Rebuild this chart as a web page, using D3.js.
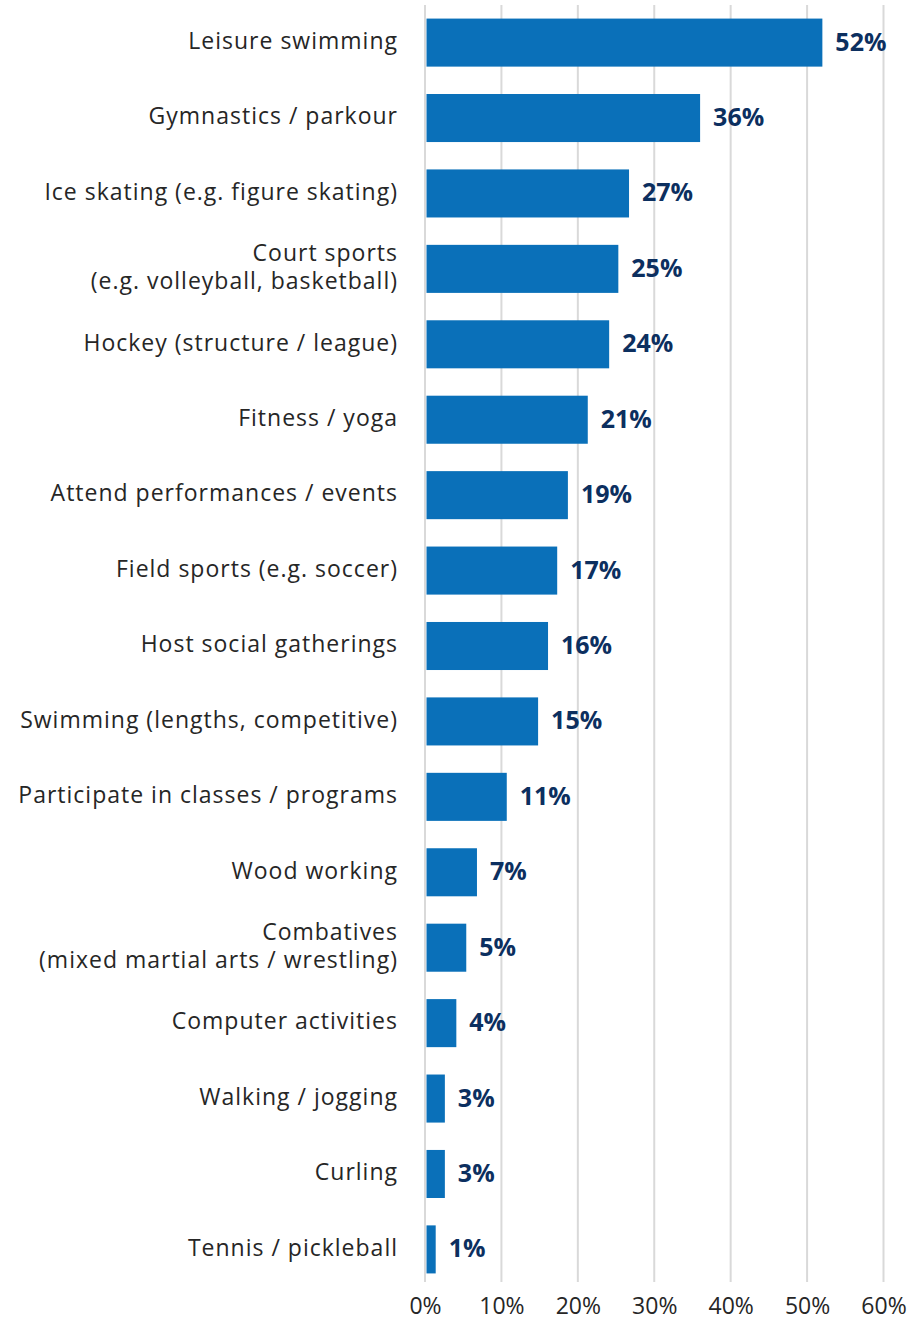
<!DOCTYPE html>
<html>
<head>
<meta charset="utf-8">
<script src="https://cdn.jsdelivr.net/npm/d3@7"></script>
<style>
  body { margin: 0; background: #fff; }
  svg { display: block; font-family: "Open Sans", Lato, sans-serif; }
</style>
</head>
<body>
<script>
const categories = [
  ['Leisure swimming'],
  ['Gymnastics / parkour'],
  ['Ice skating (e.g. figure skating)'],
  ['Court sports', '(e.g. volleyball, basketball)'],
  ['Hockey (structure / league)'],
  ['Fitness / yoga'],
  ['Attend performances / events'],
  ['Field sports (e.g. soccer)'],
  ['Host social gatherings'],
  ['Swimming (lengths, competitive)'],
  ['Participate in classes / programs'],
  ['Wood working'],
  ['Combatives', '(mixed martial arts / wrestling)'],
  ['Computer activities'],
  ['Walking / jogging'],
  ['Curling'],
  ['Tennis / pickleball']
];
// bar lengths; labels show them rounded
const values = [52.0, 36.0, 26.7, 25.3, 24.1, 21.3, 18.7, 17.3, 16.1, 14.8, 10.7, 6.8, 5.4, 4.1, 2.6, 2.6, 1.4];
const ticks = [0, 10, 20, 30, 40, 50, 60];

const w = 923, h = 1321;
const pLeft = 425, pRight = 883.5, pTop = 5, pBottom = 1287;

const svg = d3.select('body').append('svg').attr('width', w).attr('height', h);

const x = d3.scaleLinear().domain([0, 60]).range([pLeft, pRight]);
const y = d3.scaleBand().domain(d3.range(categories.length)).range([pTop, pBottom]).paddingInner(0.363).paddingOuter(0.18);

// gridlines
svg.append('g').selectAll('line').data(ticks).enter().append('line')
  .attr('x1', d => x(d)).attr('x2', d => x(d))
  .attr('y1', pTop).attr('y2', 1282)
  .attr('stroke', '#d9d9d9').attr('stroke-width', 2);

// bars
svg.append('g').selectAll('rect').data(values).enter().append('rect')
  .attr('x', x(0) + 1.5)
  .attr('y', (d, i) => y(i))
  .attr('width', d => x(d) - x(0) - 1.5)
  .attr('height', y.bandwidth())
  .attr('fill', '#0a70b9');

// value labels
svg.append('g').selectAll('text').data(values).enter().append('text')
  .attr('x', d => x(d) + 13)
  .attr('y', (d, i) => y(i) + y.bandwidth() / 2 - 1)
  .attr('dy', '0.36em')
  .attr('font-size', 25).attr('font-weight', 'bold')
  .attr('fill', '#0c2f5f')
  .text(d => Math.round(d) + '%');

// category labels
const lab = svg.append('g').selectAll('text').data(categories).enter().append('text')
  .attr('x', 398)
  .attr('y', (d, i) => y(i) + y.bandwidth() / 2 - 2)
  .attr('text-anchor', 'end')
  .attr('font-size', 23)
  .attr('letter-spacing', 1)
  .attr('fill', '#262626');
lab.each(function(d) {
  const t = d3.select(this);
  const n = d.length;
  d.forEach((line, k) => {
    t.append('tspan').attr('x', 398)
      .attr('dy', k === 0 ? (0.36 - (n - 1) * 0.6) + 'em' : '1.2em')
      .text(line);
  });
});

// x axis
const xAxis = d3.axisBottom(x).tickValues(ticks).tickFormat(d => d + '%').tickSize(0).tickPadding(0);
const ax = svg.append('g').attr('transform', 'translate(0,1306)').call(xAxis);
ax.select('.domain').remove();
ax.selectAll('text').attr('font-size', 23).attr('fill', '#262626')
  .attr('font-family', '"Open Sans", sans-serif').attr('dy', '0.36em');
</script>
</body>
</html>
